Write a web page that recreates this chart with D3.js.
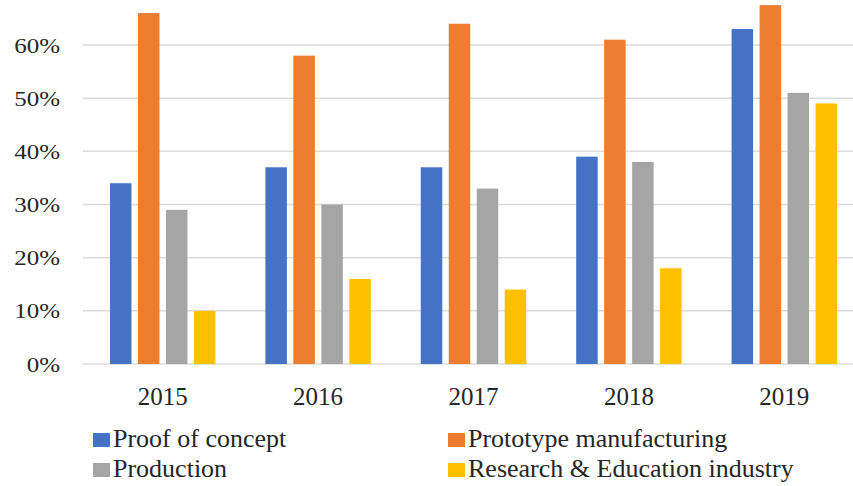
<!DOCTYPE html>
<html>
<head>
<meta charset="utf-8">
<script src="https://cdn.jsdelivr.net/npm/d3@7"></script>
<style>
  body { margin: 0; background: #fff; }
</style>
</head>
<body>
<div id="chart"></div>
<script>
// data
var years = ["2015", "2016", "2017", "2018", "2019"]
var series = ["Proof of concept", "Prototype manufacturing", "Production", "Research & Education industry"]
var proofOfConcept = [34, 37, 37, 39, 63]
var prototypeMfg = [66, 58, 64, 61, 67.5]
var production = [29, 30, 33, 38, 51]
var researchEdu = [10, 16, 14, 18, 49]
var yTicks = [0, 10, 20, 30, 40, 50, 60]
var colors = ["#4472C4", "#ED7D31", "#A5A5A5", "#FFC000"]

var values = [proofOfConcept, prototypeMfg, production, researchEdu]

var serif = "'Liberation Serif', 'DejaVu Serif', serif"
var width = 853, height = 486

var svg = d3.select("#chart")
    .append("svg")
    .attr("width", width)
    .attr("height", height)

// scales
var x0 = d3.scaleBand()
    .domain(years)
    .range([85, 862])
    .paddingInner(0)
    .paddingOuter(0)

var x1 = d3.scaleBand()
    .domain(series)
    .range([0, x0.bandwidth()])
    .paddingInner(0.232)
    .paddingOuter(0.893)

var y = d3.scaleLinear()
    .domain([0, 60])
    .range([364, 45])

var color = d3.scaleOrdinal().domain(series).range(colors)

// gridlines
svg.append("g")
    .selectAll("line")
    .data(yTicks)
    .enter()
    .append("line")
    .attr("x1", 83)
    .attr("x2", width)
    .attr("y1", d => y(d))
    .attr("y2", d => y(d))
    .attr("stroke", "#dcdcdc")
    .attr("stroke-width", 1.5)

// y axis labels
var yAxis = svg.append("g")
    .attr("transform", "translate(60,0)")
    .call(d3.axisLeft(y).tickValues(yTicks).tickFormat(d => d + "%").tickSize(0).tickPadding(0))
yAxis.select(".domain").remove()
yAxis.attr("font-family", null)
yAxis.selectAll("text")
    .style("font-family", serif)
    .style("font-size", "20px")
    .style("fill", "#262626")
    .attr("transform", "scale(1.25,1)")
    .attr("x", 0)
    .attr("dy", "0.35em")

// bars
var groups = svg.append("g")
    .selectAll("g")
    .data(years)
    .enter()
    .append("g")
    .attr("transform", d => "translate(" + x0(d) + ",0)")

groups.selectAll("rect")
    .data((d, i) => series.map((s, j) => ({ key: s, value: values[j][i] })))
    .enter()
    .append("rect")
    .attr("x", d => x1(d.key))
    .attr("width", x1.bandwidth())
    .attr("y", d => y(d.value))
    .attr("height", d => y(0) - y(d.value))
    .attr("fill", d => color(d.key))

// x labels
svg.append("g")
    .selectAll("text")
    .data(years)
    .enter()
    .append("text")
    .attr("x", d => x0(d) + x0.bandwidth() / 2)
    .attr("y", 405)
    .attr("text-anchor", "middle")
    .style("font-family", serif)
    .style("font-size", "25px")
    .style("fill", "#262626")
    .text(d => d)

// legend
var legendPos = [[93, 447], [448, 447], [93, 477], [448, 477]]
var legend = svg.append("g")
    .selectAll("g")
    .data(series)
    .enter()
    .append("g")
    .attr("transform", (d, i) => "translate(" + legendPos[i][0] + "," + legendPos[i][1] + ")")

legend.append("rect")
    .attr("x", 0)
    .attr("y", -14)
    .attr("width", 17)
    .attr("height", 14)
    .attr("fill", d => color(d))

legend.append("text")
    .attr("x", 20)
    .attr("y", 0)
    .style("font-family", serif)
    .style("font-size", "26px")
    .style("fill", "#262626")
    .text(d => d)
</script>
</body>
</html>
